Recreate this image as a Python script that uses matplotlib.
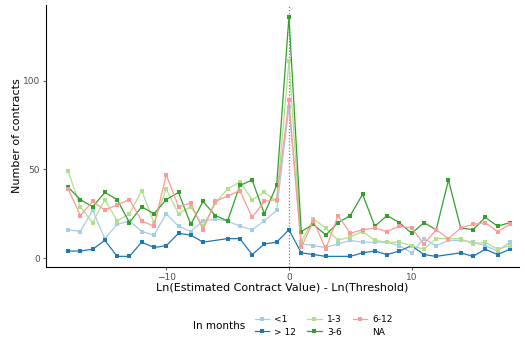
import numpy as np
import matplotlib
matplotlib.use("Agg")
import matplotlib.pyplot as plt
from matplotlib.lines import Line2D

nan = np.nan

# Ln(value) - Ln(threshold), integer bins
x_vals = list(range(-18, 19))

lt_1 = [16, 15, 27, 11, 19, 21, 15, 13, 25, 18, 15, 21, 22, 21, 18, 16, 21, 27, 85,
        8, 7, 6, 8, 10, 9, 9, 9, 7, 3, 11, 7, 10, 10, 9, 7, 4, 9]
gt_12 = [4, 4, 5, 10, 1, 1, 9, 6, 7, 14, 13, 9, nan, 11, 11, 2, 8, 9, 16,
         3, 2, 1, nan, 1, 3, 4, 2, 4, 7, 2, 1, nan, 3, 1, 5, 2, 5]
m1_3 = [49, 29, 20, 33, 21, 25, 38, 20, 39, 25, 29, 18, 31, 39, 43, 33, 37, 32, 111,
        9, 22, 17, 10, 12, 15, 10, 9, 9, 7, 5, 11, 11, 11, 8, 9, 5, 7]
m3_6 = [40, 33, 29, 37, 33, 20, 29, 25, 33, 37, 19, 32, 24, 21, 41, 44, 25, 41, 136,
        15, 19, 13, 20, 24, 36, 18, 24, 20, 14, 20, 16, 44, 17, 16, 23, 18, 20]
m6_12 = [39, 24, 32, 27, 30, 33, 21, 18, 47, 29, 31, 16, 32, 35, 38, 23, 32, 33, 89,
         6, 21, 5, 24, 14, 16, 17, 15, 18, 17, 8, 16, 11, 17, 19, 20, 15, 19]

series = [
    ("<1", lt_1, "#a6cee3"),
    ("> 12", gt_12, "#1f78b4"),
    ("1-3", m1_3, "#b2df8a"),
    ("3-6", m3_6, "#33a02c"),
    ("6-12", m6_12, "#fb9a99"),
]

fig = plt.figure(figsize=(5.25, 3.45), dpi=100)
ax = fig.add_axes([46 / 525, 78 / 345, 473 / 525, 262 / 345])

for label, values, color in series:
    x = np.array(x_vals, dtype=float)
    y = np.array(values, dtype=float)
    ok = ~np.isnan(y)
    ax.plot(x[ok], y[ok], color=color, linewidth=0.9, marker="s",
            markersize=2.8, markeredgewidth=0, label=label)

ax.axvline(0, color="#7f7f7f", linestyle=(0, (1, 1.5)), linewidth=0.9, zorder=0)

ax.set_xlim(-19.8, 18.75)
ax.set_ylim(-5, 142.7)
ax.set_xticks([-10, 0, 10])
ax.set_yticks([0, 50, 100])

for side in ("top", "right"):
    ax.spines[side].set_visible(False)
for side in ("left", "bottom"):
    ax.spines[side].set_linewidth(0.8)
    ax.spines[side].set_color("black")
ax.tick_params(axis="both", length=2.5, width=0.6, color="#333333",
               labelsize=6.5, labelcolor="#4d4d4d", pad=2)

ax.set_xlabel("Ln(Estimated Contract Value) - Ln(Threshold)", fontsize=8, labelpad=0)
ax.set_ylabel("Number of contracts", fontsize=8, labelpad=0)

handles, labels = ax.get_legend_handles_labels()
handles.append(Line2D([], [], color="none"))
labels.append("NA")
fig.text(193 / 525, 1 - 326 / 345, "In months", fontsize=7.5, va="center", ha="left")
fig.legend(handles, labels, ncol=3, loc="center left",
           bbox_to_anchor=(250 / 525, 1 - 326 / 345), frameon=False,
           fontsize=6.5, handlelength=1.6, handletextpad=0.6,
           columnspacing=1.2, labelspacing=0.35, borderpad=0)

fig.savefig("out.png", dpi=100)
